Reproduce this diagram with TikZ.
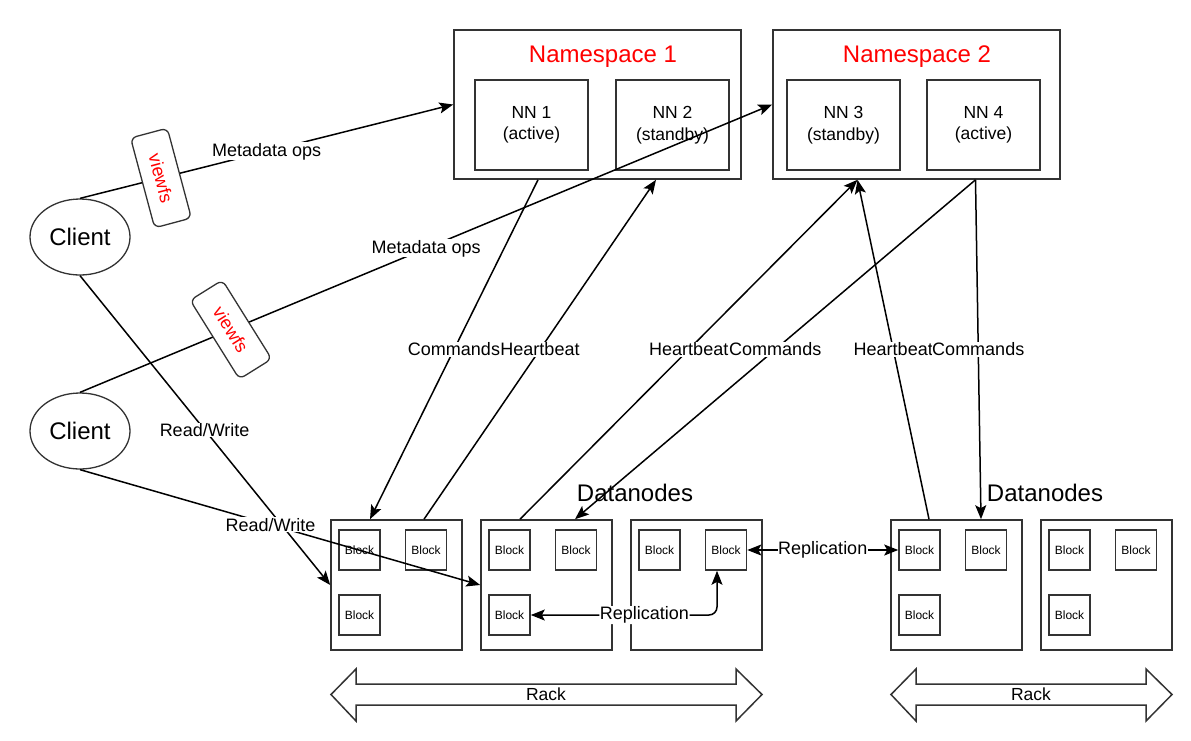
\documentclass[tikz,border=0pt]{standalone}
\usepackage{fontspec}
\setmainfont{Liberation Sans}
\usetikzlibrary{arrows.meta,calc,shapes.geometric}
\definecolor{boxgray}{HTML}{333333}
\definecolor{nsred}{HTML}{FF0000}
\tikzset{
  fs/.style={font=\fontsize{#1}{#1}\selectfont},
  nsbox/.style={draw=boxgray,line width=1.6pt,fill=white,minimum width=287pt,minimum height=149pt,inner sep=0pt},
  nnbox/.style={draw=boxgray,line width=1.6pt,fill=white,minimum width=113pt,minimum height=90pt,inner sep=0pt,align=center,font=\fontsize{17.5}{21.5}\selectfont},
  dnbox/.style={draw=boxgray,line width=1.6pt,fill=white,minimum width=131pt,minimum height=130pt,inner sep=0pt},
  blockbox/.style={draw=boxgray,line width=1.6pt,minimum width=41pt,minimum height=40pt,inner sep=0pt,fs=12},
  client/.style={draw=boxgray,line width=1.3pt,ellipse,minimum width=100pt,minimum height=76pt,inner sep=0pt,fs=24},
  viewfsbox/.style={draw=boxgray,line width=1.3pt,fill=white,rounded corners=6pt,minimum width=93pt,minimum height=38pt,inner sep=0pt,text=nsred,fs=18},
  lbl/.style={fill=white,inner sep=0.6pt,fs=18},
  conn/.style={draw=black,line width=1.5pt,-{Stealth[length=14pt,width=11pt,inset=3pt]}},
  conn2/.style={draw=black,line width=1.5pt,{Stealth[length=14pt,width=11pt,inset=3pt]}-{Stealth[length=14pt,width=11pt,inset=3pt]}},
  plain/.style={draw=black,line width=1.5pt},
  rack/.style={draw=boxgray,line width=1.5pt,fill=white},
}
\begin{document}
\begin{tikzpicture}[x=1pt,y=-1pt]
\useasboundingbox (0,0) rectangle (1191,740);
\fill[white] (0,0) rectangle (1191,740);

% namespaces
\node[nsbox] (ns1) at (597.5,104.5) {};
\node[text=nsred,fs=24] (ns1t) at (603,57) {Namespace 1};
\node[nnbox] (nn1) at (531.5,125) {NN 1\\(active)};
\node[nnbox] (nn2) at (672.5,125) {NN 2\\(standby)};
\node[nsbox] (ns2) at (916.5,104.5) {};
\node[text=nsred,fs=24] (ns2t) at (917,57) {Namespace 2};
\node[nnbox] (nn3) at (843.5,125) {NN 3\\(standby)};
\node[nnbox] (nn4) at (983.5,125) {NN 4\\(active)};

% clients
\node[client] (c1) at (80,237) {Client};
\node[client] (c2) at (80,431) {Client};

% datanodes
\node[dnbox] (dn1) at (396.5,585) {};
\node[dnbox] (dn2) at (546.5,585) {};
\node[dnbox] (dn3) at (696.5,585) {};
\node[dnbox] (dn4) at (956.5,585) {};
\node[dnbox] (dn5) at (1106.5,585) {};
\foreach \d in {1,2,4,5}{
  \node[blockbox] (b\d1) at ([shift={(-37,-35)}]dn\d.center) {Block};
  \node[blockbox] (b\d2) at ([shift={(29.5,-35)}]dn\d.center) {Block};
  \node[blockbox] (b\d3) at ([shift={(-37,30)}]dn\d.center) {Block};
}
\node[blockbox] (b31) at ([shift={(-37,-35)}]dn3.center) {Block};
\node[blockbox] (b32) at ([shift={(29.5,-35)}]dn3.center) {Block};

\node[fs=24] (dl1) at (635,493) {Datanodes};
\node[fs=24] (dl2) at (1045,493) {Datanodes};

% client connectors
\draw[conn] (c1.north) -- node[pos=.5,lbl] (m1) {Metadata ops} (ns1.west);
\draw[conn] (c2.north) -- node[pos=.5,lbl] (m2) {Metadata ops} (ns2.west);
\draw[conn] (c1.south) -- node[pos=.498,lbl] (rw1) {Read/Write} (dn1.west);
\draw[conn] (c2.south) -- node[pos=.476,lbl] (rw2) {Read/Write} (dn2.west);

\path (c1.north) -- node[pos=.217,viewfsbox,rotate=-75] (v1) {viewfs} (ns1.west);
\path (c2.north) -- node[pos=.218,viewfsbox,rotate=-58] (v2) {viewfs} (ns2.west);

% namenode <-> datanode connectors
\draw[conn] ([xshift=-59.5]ns1.south) -- node[pos=.5,lbl] (cm1) {Commands} ([xshift=-26.5]dn1.north);
\draw[conn] ([xshift=27.5]dn1.north) -- node[pos=.5,lbl] (hb1) {Heartbeat} ([xshift=58.5]ns1.south);
\draw[conn] ([xshift=-26.5]dn2.north) -- node[pos=.5,lbl] (hb2) {Heartbeat} ([xshift=-59]ns2.south);
\draw[conn] ([xshift=59]ns2.south) -- node[pos=.5,lbl] (cm2) {Commands} ([xshift=28.5]dn2.north);
\draw[conn] ([xshift=-27.5]dn4.north) -- node[pos=.5,lbl] (hb3) {Heartbeat} ([xshift=-59]ns2.south);
\draw[conn] ([xshift=59]ns2.south) -- node[pos=.5,lbl] (cm3) {Commands} ([xshift=24.5]dn4.north);

% replication
\draw[conn2,rounded corners=8pt] (b23.east) -| node[pos=.305,lbl] (rep1) {Replication} ([xshift=-9]b32.south);
\draw[conn2] (b32.east) -- node[pos=.5,lbl] (rep2) {Replication} (b41.west);

% racks
\draw[rack] (331,694.5) -- (356,669) -- (356,684) -- (736,684) -- (736,669) -- (762,694.5) -- (736,721) -- (736,705) -- (356,705) -- (356,721) -- cycle;
\node[fs=17.5] (rack1) at (546,694.5) {Rack};
\draw[rack] (891,694.5) -- (916,669) -- (916,684) -- (1146,684) -- (1146,669) -- (1172,694.5) -- (1146,721) -- (1146,705) -- (916,705) -- (916,721) -- cycle;
\node[fs=17.5] (rack2) at (1031,694.5) {Rack};
\end{tikzpicture}
\end{document}
